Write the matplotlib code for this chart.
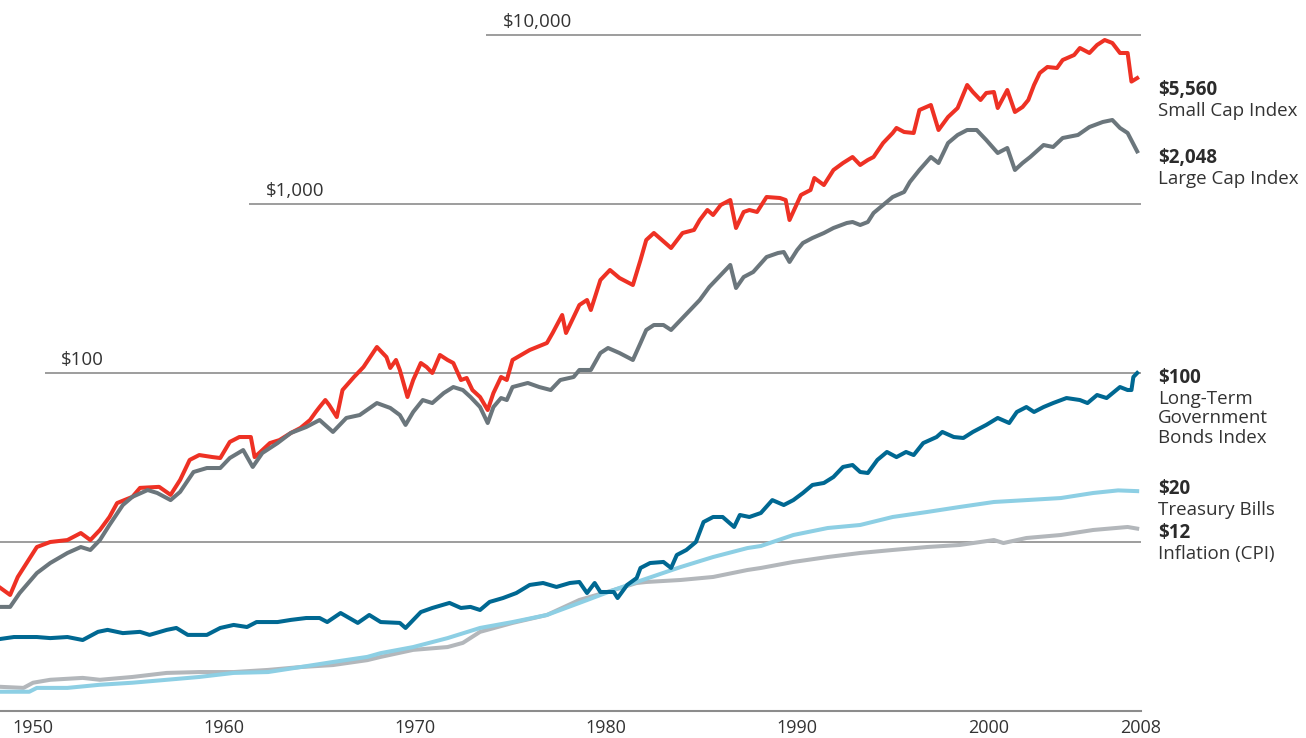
import matplotlib.pyplot as plt

plt.rcParams['font.family'] = ['Open Sans', 'DejaVu Sans']

# Growth of $1 (log scale)
small_years = [1948.3, 1948.8, 1949.2, 1950.2, 1950.9, 1951.8, 1952.5, 1953.0, 1953.5, 1954.0,
               1954.4, 1955.2, 1955.6, 1956.6, 1957.2, 1957.7, 1958.2, 1958.7, 1959.4, 1959.8,
               1960.3, 1960.8, 1961.4, 1961.6, 1961.9, 1962.4, 1962.9, 1963.5, 1964.0, 1964.5,
               1964.8, 1965.0, 1965.3, 1965.5, 1965.9, 1966.2, 1966.8, 1967.3, 1968.0, 1968.5,
               1968.7, 1969.0, 1969.2, 1969.6, 1969.9, 1970.3, 1970.6, 1970.9, 1971.3, 1971.7,
               1972.0, 1972.4, 1972.7, 1973.0, 1973.4, 1973.8, 1974.1, 1974.5, 1974.8, 1975.1,
               1976.0, 1976.9, 1977.2, 1977.7, 1977.9, 1978.3, 1978.6, 1979.0, 1979.2, 1979.7,
               1980.2, 1980.7, 1981.4, 1981.8, 1982.1, 1982.5, 1982.8, 1983.4, 1984.0, 1984.6,
               1984.9, 1985.3, 1985.6, 1986.0, 1986.5, 1986.8, 1987.2, 1987.5, 1987.9, 1988.4,
               1989.1, 1989.4, 1989.6, 1990.2, 1990.7, 1990.9, 1991.4, 1991.9, 1992.4, 1992.9,
               1993.3, 1993.7, 1994.0, 1994.5, 1995.0, 1995.2, 1995.6, 1996.1, 1996.4, 1997.0,
               1997.4, 1997.9, 1998.4, 1998.9, 1999.2, 1999.6, 1999.9, 2000.3, 2000.5, 2001.0,
               2001.4, 2001.8, 2002.1, 2002.4, 2002.7, 2003.1, 2003.6, 2003.9, 2004.5, 2004.8,
               2005.3, 2005.7, 2006.1, 2006.5, 2006.9, 2007.3, 2007.5, 2007.8]
small_cap = [5.34, 4.86, 6.21, 9.34, 10.0, 10.27, 11.3, 10.27, 11.78, 14.06,
             17.0, 18.5, 20.9, 21.2, 19.0, 23.3, 30.6, 32.7, 31.8, 31.4,
             39.1, 41.8, 41.8, 31.8, 34.1, 38.5, 40.1, 44.2, 47.3, 52.7,
             58.8, 62.9, 69.2, 64.7, 54.9, 79.3, 94.7, 108.5, 142.5, 124.3,
             107.1, 119.4, 104.2, 72.1, 90.9, 114.6, 108.5, 100.0, 127.8, 119.4,
             114.6, 90.9, 93.4, 79.3, 72.1, 60.4, 76.1, 94.7, 90.9, 119.4,
             136.8, 150.5, 172.5, 220.4, 172.5, 214.5, 252.6, 270.4, 235.9, 354.9,
             406.9, 364.8, 331.6, 466.2, 612.4, 673.6, 629.3, 549.0, 673.6, 702.0,
             804.0, 921.5, 860.9, 986.5, 1056, 721.1, 896.9, 921.5, 896.9, 1100,
             1085, 1056, 804.0, 1131, 1210, 1425, 1295, 1589, 1748, 1897,
             1702, 1822, 1897, 2296, 2631, 2817, 2667, 2631, 3599, 3853,
             2741, 3272, 3698, 5059, 4599, 4125, 4538, 4599, 3698, 4727,
             3503, 3750, 4125, 5059, 5960, 6467, 6378, 7114, 7615, 8378,
             7826, 8728, 9341, 8968, 7826, 7826, 5300, 5560]

large_years = [1948.3, 1948.8, 1949.3, 1950.2, 1950.9, 1951.8, 1952.5, 1953.0, 1953.5, 1954.0,
               1954.7, 1955.2, 1956.0, 1956.5, 1957.2, 1957.7, 1958.4, 1959.1, 1959.8, 1960.3,
               1961.0, 1961.5, 1962.0, 1962.8, 1963.5, 1964.3, 1965.0, 1965.7, 1966.4, 1967.1,
               1968.0, 1968.7, 1969.2, 1969.5, 1969.9, 1970.4, 1970.9, 1971.5, 1972.0, 1972.5,
               1972.9, 1973.4, 1973.8, 1974.1, 1974.5, 1974.8, 1975.1, 1975.9, 1976.5, 1977.1,
               1977.6, 1978.3, 1978.6, 1979.2, 1979.7, 1980.1, 1980.7, 1981.4, 1981.8, 1982.1,
               1982.5, 1983.0, 1983.4, 1983.9, 1984.4, 1984.9, 1985.4, 1986.0, 1986.5, 1986.8,
               1987.2, 1987.7, 1988.4, 1989.0, 1989.3, 1989.6, 1990.0, 1990.3, 1990.8, 1991.4,
               1991.9, 1992.6, 1992.9, 1993.3, 1993.7, 1994.0, 1994.5, 1995.0, 1995.6, 1995.9,
               1996.4, 1997.0, 1997.4, 1997.9, 1998.4, 1998.9, 1999.4, 1999.9, 2000.5, 2001.0,
               2001.4, 2001.8, 2002.2, 2002.9, 2003.4, 2003.9, 2004.7, 2005.3, 2006.0, 2006.5,
               2006.9, 2007.3, 2007.8]
large_cap = [4.13, 4.13, 4.99, 6.55, 7.51, 8.61, 9.34, 8.97, 10.27, 12.61,
             16.55, 18.5, 20.3, 19.5, 17.7, 19.8, 25.95, 27.4, 27.4, 31.4,
             35.0, 27.8, 33.6, 38.5, 44.2, 47.9, 52.7, 44.8, 54.2, 56.4,
             66.4, 62.1, 56.4, 49.3, 58.8, 69.2, 66.4, 76.1, 82.6, 79.3,
             72.1, 62.9, 50.6, 62.9, 71.1, 69.2, 82.6, 87.3, 82.6, 79.3,
             90.9, 94.7, 104.2, 104.2, 131.3, 140.6, 131.3, 119.4, 150.5, 179.7,
             192.3, 192.3, 179.7, 205.9, 235.9, 270.4, 322.8, 380.1, 435.7, 318.4,
             369.8, 396.0, 485.7, 513.0, 520.0, 453.8, 534.2, 587.7, 629.3, 673.6,
             721.1, 772.0, 782.6, 751.2, 782.6, 884.8, 986.5, 1100, 1178, 1350,
             1589, 1897, 1748, 2296, 2561, 2741, 2741, 2391, 2003, 2145,
             1589, 1748, 1897, 2234, 2174, 2458, 2561, 2855, 3057, 3141,
             2817, 2631, 2048]

bond_years = [1948.3, 1949.0, 1950.2, 1950.9, 1951.8, 1952.6, 1953.4, 1953.9, 1954.7, 1955.6,
              1956.1, 1957.0, 1957.5, 1958.1, 1959.1, 1959.8, 1960.5, 1961.2, 1961.7, 1962.8,
              1963.5, 1964.3, 1965.0, 1965.4, 1966.1, 1967.0, 1967.6, 1968.2, 1969.2, 1969.5,
              1970.3, 1970.9, 1971.8, 1972.4, 1972.9, 1973.4, 1973.9, 1974.6, 1975.3, 1976.0,
              1976.7, 1977.4, 1978.1, 1978.6, 1979.0, 1979.4, 1979.7, 1980.4, 1980.6, 1981.1,
              1981.6, 1981.8, 1982.3, 1983.0, 1983.4, 1983.7, 1984.2, 1984.7, 1985.1, 1985.6,
              1986.1, 1986.7, 1987.0, 1987.5, 1988.1, 1988.7, 1989.3, 1989.8, 1990.3, 1990.8,
              1991.4, 1991.9, 1992.4, 1992.9, 1993.3, 1993.7, 1994.2, 1994.7, 1995.2, 1995.7,
              1996.1, 1996.6, 1997.3, 1997.6, 1998.2, 1998.7, 1999.2, 1999.9, 2000.5, 2001.1,
              2001.5, 2002.0, 2002.4, 2002.9, 2003.4, 2004.1, 2004.8, 2005.2, 2005.7, 2006.2,
              2006.9, 2007.3, 2007.5, 2007.6, 2007.8]
bonds = [2.67, 2.74, 2.74, 2.70, 2.74, 2.63, 2.94, 3.02, 2.89, 2.94,
         2.82, 3.02, 3.10, 2.82, 2.82, 3.10, 3.23, 3.14, 3.36, 3.36,
         3.46, 3.55, 3.55, 3.36, 3.80, 3.32, 3.70, 3.36, 3.32, 3.10,
         3.85, 4.07, 4.36, 4.07, 4.13, 3.96, 4.42, 4.66, 4.99, 5.57,
         5.72, 5.42, 5.72, 5.80, 4.99, 5.72, 5.06, 5.06, 4.66, 5.57,
         6.12, 7.02, 7.51, 7.62, 7.02, 8.38, 8.97, 10.0, 13.13, 14.06,
         14.06, 12.27, 14.45, 14.06, 14.85, 17.7, 16.55, 17.7, 19.5, 21.75,
         22.35, 24.25, 27.8, 28.55, 25.95, 25.6, 30.6, 34.1, 31.8, 34.1,
         32.7, 38.5, 41.8, 44.8, 41.8, 41.25, 44.8, 49.3, 54.2, 50.6,
         58.8, 62.9, 58.8, 62.9, 66.4, 71.1, 69.2, 66.4, 74.1, 71.1,
         82.6, 79.3, 79.3, 94.7, 100.0]

bill_years = [1948.3, 1949.8, 1950.2, 1951.8, 1953.5, 1955.2, 1957.0, 1958.7, 1960.5, 1962.3,
              1964.0, 1965.7, 1967.5, 1968.2, 1969.9, 1971.7, 1973.4, 1975.1, 1976.9, 1978.6,
              1980.4, 1981.6, 1983.9, 1985.6, 1987.4, 1988.1, 1989.8, 1991.6, 1993.3, 1995.0,
              1996.8, 1998.5, 2000.3, 2002.0, 2003.8, 2005.5, 2006.8, 2007.8]
t_bills = [1.30, 1.30, 1.37, 1.37, 1.43, 1.47, 1.53, 1.59, 1.68, 1.70,
           1.82, 1.95, 2.09, 2.20, 2.39, 2.70, 3.10, 3.36, 3.70, 4.36,
           5.20, 5.80, 7.11, 8.15, 9.21, 9.47, 11.0, 12.1, 12.61, 14.06,
           15.05, 16.11, 17.25, 17.7, 18.2, 19.5, 20.2, 20.0]

cpi_years = [1948.3, 1949.5, 1950.0, 1950.9, 1952.6, 1953.5, 1955.2, 1957.0, 1958.7, 1960.5,
             1962.3, 1964.0, 1965.7, 1967.5, 1968.2, 1969.9, 1971.7, 1972.5, 1973.4, 1975.1,
             1976.9, 1978.6, 1980.4, 1981.6, 1982.1, 1983.9, 1985.6, 1987.4, 1988.1, 1989.8,
             1991.6, 1993.3, 1995.0, 1996.8, 1998.5, 2000.3, 2000.8, 2002.0, 2003.8, 2005.5,
             2007.3, 2007.8]
cpi = [1.39, 1.37, 1.47, 1.53, 1.57, 1.53, 1.59, 1.68, 1.70, 1.70,
       1.75, 1.82, 1.87, 2.00, 2.09, 2.30, 2.39, 2.53, 2.94, 3.32,
       3.70, 4.54, 5.20, 5.72, 5.80, 5.96, 6.21, 6.83, 7.02, 7.62,
       8.15, 8.61, 8.97, 9.34, 9.60, 10.27, 9.86, 10.56, 11.0, 11.78,
       12.27, 12.0]

tick_years = [1950, 1960, 1970, 1980, 1990, 2000, 2008]
grid_levels = [10, 100, 1000, 10000]
grid_starts = [1948.27, 1950.6, 1961.3, 1973.7]
grid_labels = ['', '$100', '$1,000', '$10,000']

end_values = ['$5,560', '$2,048', '$100', '$20', '$12']
end_names = ['Small Cap Index', 'Large Cap Index', 'Long-Term\nGovernment\nBonds Index',
             'Treasury Bills', 'Inflation (CPI)']

fig = plt.figure(figsize=(13.06, 7.38), dpi=100)
ax = fig.add_axes([0, 27 / 738, 1141 / 1306, 711 / 738])
ax.set_yscale('log')
ax.set_ylim(1, 10 ** (711 / 169))
ax.set_xlim(1948.27, 2008.0)

# horizontal reference lines with their labels
for lvl, start, lab in zip(grid_levels, grid_starts, grid_labels):
    ax.hlines(lvl, start, 2008.0, color='#8c8c8c', lw=1.2, zorder=1)
    if lab:
        ax.annotate(lab, (start, lvl), xytext=(12, 3), textcoords='offset points',
                    fontsize=13.5, color='#333333', va='bottom', ha='left')

lw = 2.9
ax.plot(cpi_years, cpi, color='#b3b7bb', lw=lw, zorder=2)
ax.plot(bill_years, t_bills, color='#8dcfe4', lw=lw, zorder=3)
ax.plot(bond_years, bonds, color='#006892', lw=lw, zorder=4)
ax.plot(small_years, small_cap, color='#ee3124', lw=lw, zorder=5)
ax.plot(large_years, large_cap, color='#6b767c', lw=lw, zorder=6)

for s in ['top', 'left', 'right']:
    ax.spines[s].set_visible(False)
ax.spines['bottom'].set_color('#8c8c8c')
ax.spines['bottom'].set_linewidth(1.5)
ax.set_yticks([])
ax.minorticks_off()
ax.set_xticks(tick_years)
ax.set_xticklabels([str(y) for y in tick_years], fontsize=13, color='#333333')
ax.tick_params(axis='x', length=0, pad=6)

# labels on the right
val_y = [90, 158, 378, 489, 533]
for v, name, yp in zip(end_values, end_names, val_y):
    fig.text(1158 / 1306, 1 - yp / 738, v, fontsize=13.5, fontweight='bold',
             color='#2b2b2b', va='center', ha='left')
    fig.text(1158 / 1306, 1 - (yp + 12) / 738, name, fontsize=13.5, color='#333333',
             va='top', ha='left', linespacing=1.1)

fig.savefig('out.png', dpi=100)
